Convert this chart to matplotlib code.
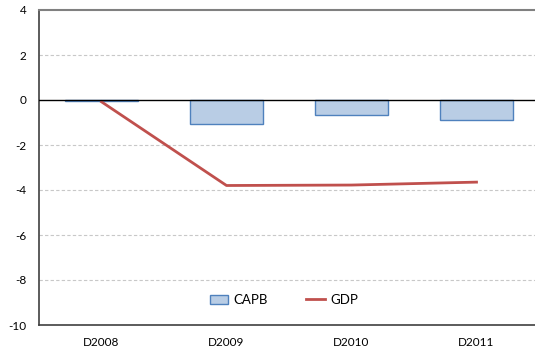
import matplotlib
matplotlib.use("Agg")
import matplotlib.pyplot as plt
import numpy as np

categories = ["D2008", "D2009", "D2010", "D2011"]
capb = [-0.05, -1.05, -0.68, -0.87]
gdp = [-0.08, -3.8, -3.78, -3.65]
yticks = [4, 2, 0, -2, -4, -6, -8, -10]

plt.rcParams['font.family'] = ['Lato', 'DejaVu Sans']

fig = plt.figure(figsize=(5.35, 3.56), dpi=100)
W, H = 535, 356
ax = fig.add_axes([39 / W, 1 - 325 / H, (535 - 39) / W, (325 - 10) / H])

x = np.arange(len(categories))
bars = ax.bar(x, capb, width=0.58, color="#B9CDE5", edgecolor="#4F81BD", linewidth=1.0, label="CAPB", zorder=3)
line, = ax.plot(x, gdp, color="#C0504D", linewidth=2.0, label="GDP", zorder=4)

ax.set_ylim(-10, 4)
ax.set_xlim(-0.5, -0.5 + (535 - 39) / 125)
ax.set_yticks(yticks)
ax.set_yticklabels([str(v) for v in yticks])
ax.set_xticks(x)
ax.set_xticklabels(categories)

for v in [2, -2, -4, -6, -8]:
    ax.axhline(v, color="#C8C8C8", linewidth=0.8, linestyle=(0, (3, 2)), zorder=1)
ax.axhline(0, color="black", linewidth=1.0, zorder=5)

ax.spines["right"].set_visible(False)
for s in ["left", "bottom"]:
    ax.spines[s].set_color("#404040")
    ax.spines[s].set_linewidth(1.2)
ax.spines["top"].set_color("#808080")
ax.spines["top"].set_linewidth(1.5)

ax.tick_params(axis="both", length=0, labelsize=8.5, colors="black")
ax.tick_params(axis="x", pad=9)
ax.tick_params(axis="y", pad=9)

ax.legend([bars, line], ["CAPB", "GDP"], loc="center",
          bbox_to_anchor=((284 - 39) / 496, (325 - 300) / 315), ncol=2, frameon=False,
          fontsize=9.5, handlelength=1.4, handleheight=0.7, columnspacing=2.9, handletextpad=0.4)

fig.savefig("out.png", dpi=100)
